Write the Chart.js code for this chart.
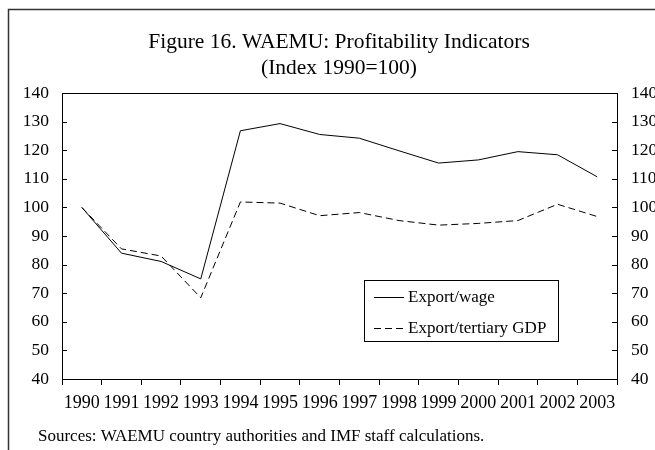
<!DOCTYPE html>
<html><head><meta charset="utf-8">
<script src="https://cdn.jsdelivr.net/npm/chart.js@4.4.1/dist/chart.umd.min.js"></script>
<style>html,body{margin:0;padding:0;background:#fff}canvas{display:block}</style>
</head><body>
<canvas id="c" width="655" height="450"></canvas>
<script>
const years = ['1990','1991','1992','1993','1994','1995','1996','1997','1998','1999','2000','2001','2002','2003'];
const exportWage = [100, 84, 81.1, 75, 126.8, 129.3, 125.5, 124.2, 119.8, 115.5, 116.6, 119.5, 118.4, 110.7];
const exportTertiaryGDP = [100, 85.5, 83, 68.4, 101.9, 101.5, 97.1, 98.2, 95.4, 93.8, 94.4, 95.4, 101.1, 96.8];
const yTicks = [40, 50, 60, 70, 80, 90, 100, 110, 120, 130, 140];
const seriesNames = ['Export/wage', 'Export/tertiary GDP'];
const titleLines = ['Figure 16. WAEMU: Profitability Indicators', '(Index 1990=100)'];
const sourceNote = 'Sources: WAEMU country authorities and IMF staff calculations.';

const SERIF = '"Liberation Serif", "Times New Roman", serif';

const decor = {
  id: 'decor',
  beforeDraw(chart) {
    const ctx = chart.ctx;
    ctx.save();
    ctx.fillStyle = '#fff';
    ctx.fillRect(0, 0, chart.width, chart.height);
    ctx.restore();
  },
  afterDraw(chart) {
    const ctx = chart.ctx;
    const a = chart.chartArea;
    ctx.save();
    // outer frame
    ctx.strokeStyle = '#333';
    ctx.lineWidth = 1.5;
    ctx.beginPath();
    ctx.moveTo(8.5, chart.height);
    ctx.lineTo(8.5, 9.5);
    ctx.lineTo(chart.width, 9.5);
    ctx.stroke();
    // plot box
    ctx.strokeStyle = '#000';
    ctx.lineWidth = 1;
    ctx.strokeRect(Math.round(a.left) + 0.5, Math.round(a.top) + 0.5, Math.round(a.right - a.left), Math.round(a.bottom - a.top));
    // inward ticks on both y axes
    const yl = chart.scales.y, yr = chart.scales.y2;
    ctx.beginPath();
    yl.ticks.forEach(t => {
      const py = Math.round(yl.getPixelForValue(t.value)) + 0.5;
      ctx.moveTo(a.left, py); ctx.lineTo(a.left + 5, py);
    });
    yr.ticks.forEach(t => {
      const py = Math.round(yr.getPixelForValue(t.value)) + 0.5;
      ctx.moveTo(a.right, py); ctx.lineTo(a.right - 5, py);
    });
    ctx.stroke();
    // title
    ctx.fillStyle = '#000';
    ctx.textAlign = 'center';
    ctx.textBaseline = 'alphabetic';
    ctx.font = '21.5px ' + SERIF;
    ctx.fillText(titleLines[0], 339, 48);
    ctx.fillText(titleLines[1], 339, 74);
    // legend box
    const lx = 364, ly = 280, lw = 194, lh = 61;
    ctx.fillStyle = '#fff';
    ctx.fillRect(lx, ly, lw, lh);
    ctx.strokeStyle = '#000';
    ctx.lineWidth = 1;
    ctx.strokeRect(lx + 0.5, ly + 0.5, lw, lh);
    ctx.font = '17px ' + SERIF;
    ctx.textAlign = 'left';
    ctx.textBaseline = 'middle';
    chart.data.datasets.forEach((ds, i) => {
      const cy = ly + 17 + i * 31 + 0.5;
      ctx.strokeStyle = ds.borderColor;
      ctx.lineWidth = ds.borderWidth;
      ctx.setLineDash(ds.borderDash || []);
      ctx.beginPath();
      ctx.moveTo(lx + 10, cy); ctx.lineTo(lx + 40, cy);
      ctx.stroke();
      ctx.setLineDash([]);
      ctx.fillStyle = '#000';
      ctx.fillText(ds.label, lx + 44, cy);
    });
    // source note
    ctx.font = '17px ' + SERIF;
    ctx.textAlign = 'left';
    ctx.textBaseline = 'alphabetic';
    ctx.fillStyle = '#000';
    ctx.fillText(sourceNote, 38, 441);
    ctx.restore();
  }
};

const yScale = (pos, pad, w) => ({
  type: 'linear', position: pos, min: 40, max: 140,
  afterBuildTicks: s => { s.ticks = yTicks.map(v => ({ value: v })); },
  grid: { display: false, drawTicks: false },
  border: { display: false },
  ticks: { padding: pad, color: '#000', font: { family: SERIF, size: 17.5 } },
  afterFit: s => { s.width = w; }
});

new Chart(document.getElementById('c'), {
  type: 'line',
  data: {
    labels: years,
    datasets: [
      { label: seriesNames[0], data: exportWage, borderColor: '#000', borderWidth: 1, pointRadius: 0, tension: 0, fill: false, yAxisID: 'y' },
      { label: seriesNames[1], data: exportTertiaryGDP, borderColor: '#000', borderWidth: 1, borderDash: [7, 4], pointRadius: 0, tension: 0, fill: false, yAxisID: 'y' }
    ]
  },
  options: {
    responsive: false,
    animation: false,
    layout: { padding: { top: 93, left: 0, right: 0, bottom: 0 } },
    plugins: { legend: { display: false }, title: { display: false }, tooltip: { enabled: false } },
    scales: {
      x: {
        type: 'category', offset: true,
        grid: { display: true, drawOnChartArea: false, drawTicks: true, tickLength: 6, color: '#000', offset: true },
        border: { display: false },
        ticks: { padding: 7, color: '#000', maxRotation: 0, autoSkip: false, font: { family: SERIF, size: 18 } },
        afterFit: s => { s.height = 71; }
      },
      y: yScale('left', 13, 62),
      y2: yScale('right', 14, 38)
    }
  },
  plugins: [decor]
});
</script>
</body></html>
